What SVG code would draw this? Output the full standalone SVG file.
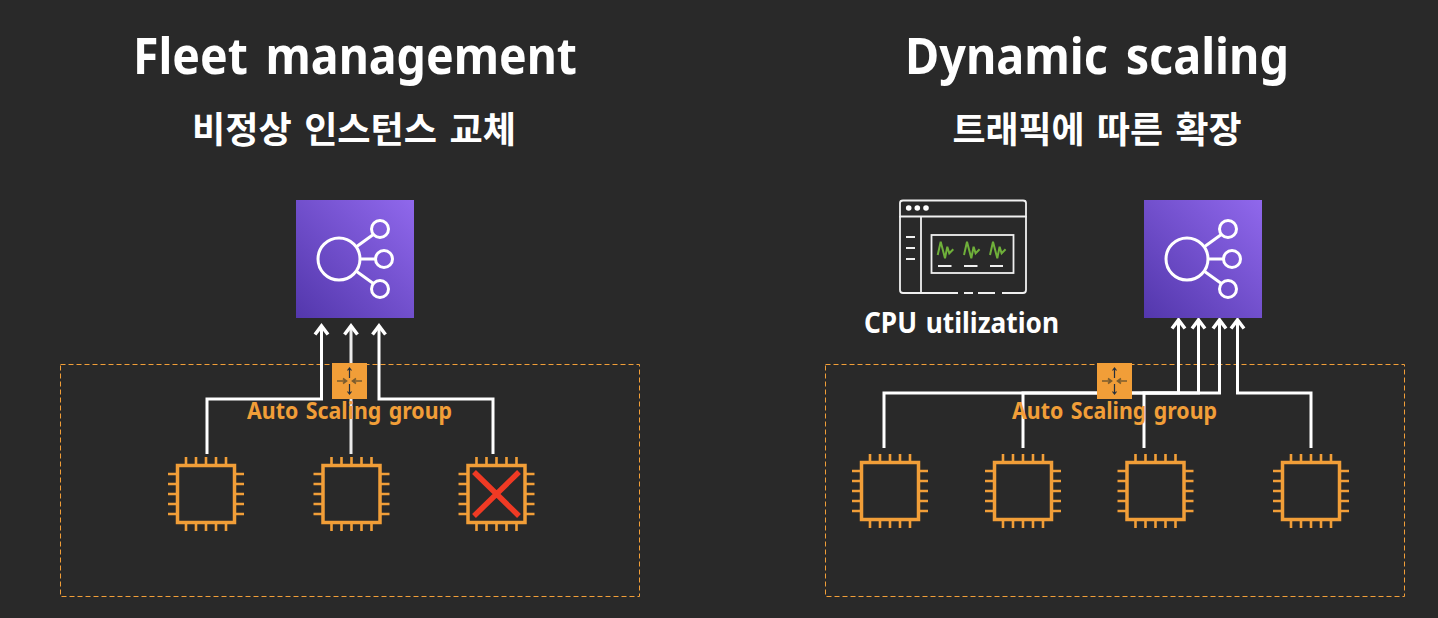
<svg xmlns="http://www.w3.org/2000/svg" xmlns:xlink="http://www.w3.org/1999/xlink" width="1438" height="618" viewBox="0 0 1438 618">
<style>
text{font-family:"Noto Sans","Noto Sans CJK KR",sans-serif;font-weight:700;text-anchor:middle}
.title{font-size:50px;fill:#fff;word-spacing:6px}
.sub{font-size:36px;fill:#fff;word-spacing:3px}
.asgl{font-size:23px;fill:#F19E38;word-spacing:2px}
.cap{font-size:28px;fill:#fff;word-spacing:2px}
.dash{fill:none;stroke:#F19E38;stroke-width:1;stroke-dasharray:5 3}
.plain{fill:none;stroke:#fff;stroke-width:3}
.chip{fill:none;stroke:#F19E38}
.elbl{fill:none;stroke:#fff;stroke-width:3}
.mon{fill:none;stroke:#f0f0f0;stroke-width:1.800}
</style>
<defs>
<linearGradient id="pg" x1="0" y1="1" x2="1" y2="0"><stop offset="0" stop-color="#5337AC"/><stop offset="1" stop-color="#9068EC"/></linearGradient>
<path id="head" d="M-6.500 10.500L0 2L6.500 10.500" fill="none" stroke="#fff" stroke-width="3.500"/>
<g id="chip" class="chip">
<rect x="-28.500" y="-28.500" width="57" height="57" stroke-width="3.500"/>
<path stroke-width="2.600" d="M-20-29v-8M-10-29v-8M0-29v-8M10-29v-8M20-29v-8M-20 29v8M-10 29v8M0 29v8M10 29v8M20 29v8M-29-20h-9M-29-10h-9M-29 0h-9M-29 10h-9M-29 20h-9M29-20h9M29-10h9M29 0h9M29 10h9M29 20h9"/>
</g>
<g id="elb">
<rect width="118" height="118" fill="url(#pg)"/>
<g class="elbl"><circle cx="43" cy="59" r="21"/><circle cx="84" cy="29" r="8.500"/><circle cx="88" cy="59" r="8.500"/><circle cx="84" cy="89" r="8.500"/><path d="M60 47L78 34M64 59H79M60 71L78 84"/></g>
</g>
<g id="asg">
<rect width="35" height="36" fill="#F19E38"/>
<path d="M5 18H14M30 18H21M11 15.500L14.500 18L11 20.500M24 15.500L20.500 18L24 20.500" stroke="#7a5c2e" stroke-width="1.600" fill="none"/>
<path d="M17.500 5V15M17.500 21V31M15.500 7.500L17.500 5L19.500 7.500M15.500 28.500L17.500 31L19.500 28.500" stroke="#232F3E" stroke-width="1.200" fill="none"/>
</g>
</defs>
<rect width="1438" height="618" fill="#292929"/>
<text class="title" x="355" y="74" textLength="444" lengthAdjust="spacingAndGlyphs">Fleet management</text>
<text class="sub" x="354" y="143" textLength="324" lengthAdjust="spacingAndGlyphs">비정상 인스턴스 교체</text>
<text class="title" x="1097" y="74" textLength="384" lengthAdjust="spacingAndGlyphs">Dynamic scaling</text>
<text class="sub" x="1097" y="143" textLength="289" lengthAdjust="spacingAndGlyphs">트래픽에 따른 확장</text>
<rect id="group-left" class="dash" x="60.500" y="364.500" width="579" height="232"/>
<rect id="group-right" class="dash" x="825.500" y="364.500" width="579" height="232"/>
<g id="connectors">
<path class="plain" d="M207 454V399H321.500V327"/>
<path class="plain" d="M351 454V327" stroke-opacity=".9"/>
<path class="plain" d="M493 454V399H379V327"/>
<use xlink:href="#head" href="#head" x="321.500" y="324"/>
<use xlink:href="#head" href="#head" x="351" y="324"/>
<use xlink:href="#head" href="#head" x="379" y="324"/>
<path class="plain" d="M884 448V393H1178.500V321"/>
<path class="plain" d="M1023 448V393H1198.500V321"/>
<path class="plain" d="M1144 448V393H1219.500V321"/>
<path class="plain" d="M1311 448V393H1237.500V321"/>
<use xlink:href="#head" href="#head" x="1178.500" y="318"/>
<use xlink:href="#head" href="#head" x="1198.500" y="318"/>
<use xlink:href="#head" href="#head" x="1219.500" y="318"/>
<use xlink:href="#head" href="#head" x="1237.500" y="318"/>
</g>
<g id="elb-left"><use xlink:href="#elb" href="#elb" x="296" y="200"/></g>
<g id="elb-right"><use xlink:href="#elb" href="#elb" x="1144" y="200"/></g>
<g id="asg-left"><use xlink:href="#asg" href="#asg" x="332" y="363"/><text class="asgl" x="349.500" y="419" textLength="205" lengthAdjust="spacingAndGlyphs">Auto Scaling group</text></g>
<g id="asg-right"><use xlink:href="#asg" href="#asg" x="1097" y="363"/><text class="asgl" x="1114.500" y="419" textLength="205" lengthAdjust="spacingAndGlyphs">Auto Scaling group</text></g>
<g id="chip-l1"><use xlink:href="#chip" href="#chip" x="206" y="494"/></g>
<g id="chip-l2"><use xlink:href="#chip" href="#chip" x="351.500" y="494"/></g>
<g id="chip-l3"><use xlink:href="#chip" href="#chip" x="496.500" y="494"/>
<path d="M474 472L519 516M519 472L474 516" stroke="#F03A24" stroke-width="5.500" fill="none"/></g>
<g id="chip-r1"><use xlink:href="#chip" href="#chip" x="890" y="491"/></g>
<g id="chip-r2"><use xlink:href="#chip" href="#chip" x="1023" y="491"/></g>
<g id="chip-r3"><use xlink:href="#chip" href="#chip" x="1155.500" y="491"/></g>
<g id="chip-r4"><use xlink:href="#chip" href="#chip" x="1311" y="491"/></g>
<g id="monitor">
<g class="mon">
<path d="M900 216.500V203Q900 200.500 903 200.500H1023Q1026 200.500 1026 203V216.500ZM900 216.500H1026"/>
<path d="M900 216V290Q900 293 903 293H958M964 293H973M978 293H995M1002 293H1023Q1026 293 1026 290V216M921 216V293"/>
<rect x="931.500" y="235" width="82" height="38"/>
<path d="M906 237H915M906 248H915M906 259H915M938 266H951.500M964 266H977.500M990 266H1003"/>
</g>
<g fill="#fff"><circle cx="908.700" cy="208" r="2.800"/><circle cx="917.300" cy="208" r="2.800"/><circle cx="926" cy="208" r="2.800"/></g>
<g fill="none" stroke="#6FB03A" stroke-width="2"><path d="M937.700 255L940.700 241.700L945 258.300L947.300 246.700L949.300 253.300L953.300 249.300"/><path d="M964 255L967 241.700L971.300 258.300L973.600 246.700L975.600 253.300L979.600 249.300"/><path d="M990 255L993 241.700L997.300 258.300L999.600 246.700L1001.600 253.300L1005.600 249.300"/></g>
<text class="cap" x="961.500" y="333" textLength="195" lengthAdjust="spacingAndGlyphs">CPU utilization</text>
</g>
</svg>
